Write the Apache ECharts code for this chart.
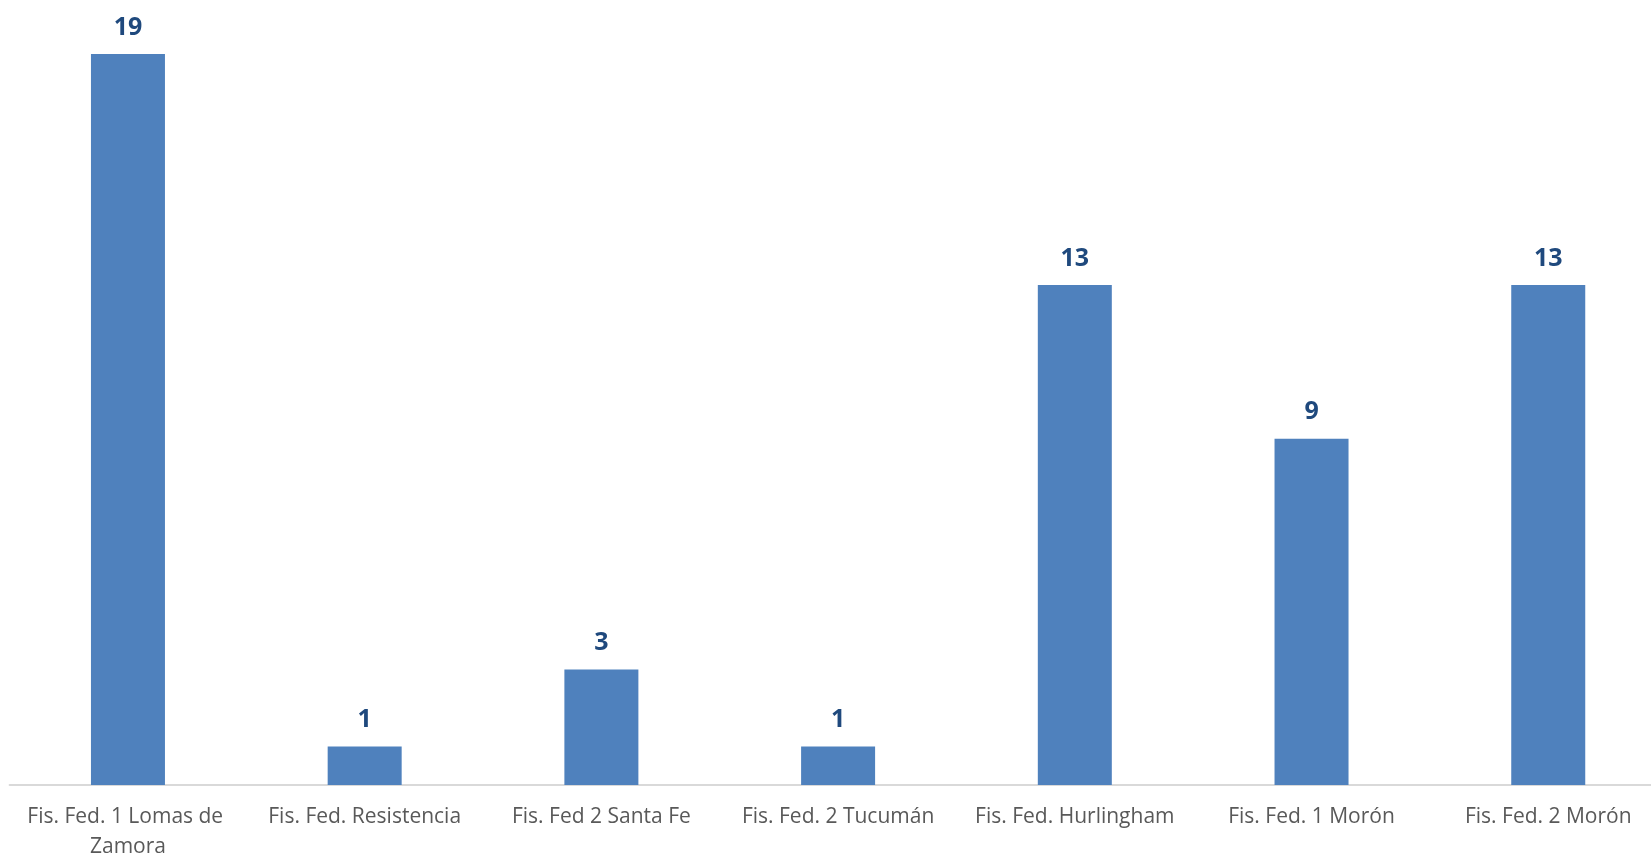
<!DOCTYPE html>
<html>
<head>
<meta charset="utf-8">
<script src="https://cdn.jsdelivr.net/npm/echarts@6/dist/echarts.min.js"></script>
<style>
html,body{margin:0;padding:0;background:#fff;}
#chart{width:1651px;height:856px;}
</style>
</head>
<body>
<div id="chart"></div>
<script>
const categories = [
  "Fis. Fed. 1 Lomas de Zamora",
  "Fis. Fed. Resistencia",
  "Fis. Fed 2 Santa Fe",
  "Fis. Fed. 2 Tucumán",
  "Fis. Fed. Hurlingham",
  "Fis. Fed. 1 Morón",
  "Fis. Fed. 2 Morón"
];
const values = [19, 1, 3, 1, 13, 9, 13];

const chart = echarts.init(document.getElementById('chart'));
chart.setOption({
  animation: false,
  grid: { left: 9.6, width: 1657, top: 15.6, bottom: 71, containLabel: false, outerBoundsMode: 'none' },
  xAxis: {
    type: 'category',
    data: categories,
    axisLine: { lineStyle: { color: '#D9D9D9', width: 2 } },
    axisTick: { show: false },
    axisLabel: {
      color: '#595959',
      fontFamily: 'Open Sans',
      fontSize: 21,
      margin: 17,
      lineHeight: 30,
      width: 215,
      overflow: 'break',
      interval: 0
    }
  },
  yAxis: {
    type: 'value',
    min: 0,
    max: 20,
    show: false,
    splitLine: { show: false }
  },
  series: [{
    type: 'bar',
    data: values,
    barWidth: 74,
    itemStyle: { color: '#4F81BD' },
    label: {
      show: true,
      position: 'top',
      distance: 14,
      color: '#1F497D',
      fontFamily: 'Open Sans',
      fontWeight: 'bold',
      fontSize: 25
    }
  }]
});
</script>
</body>
</html>
